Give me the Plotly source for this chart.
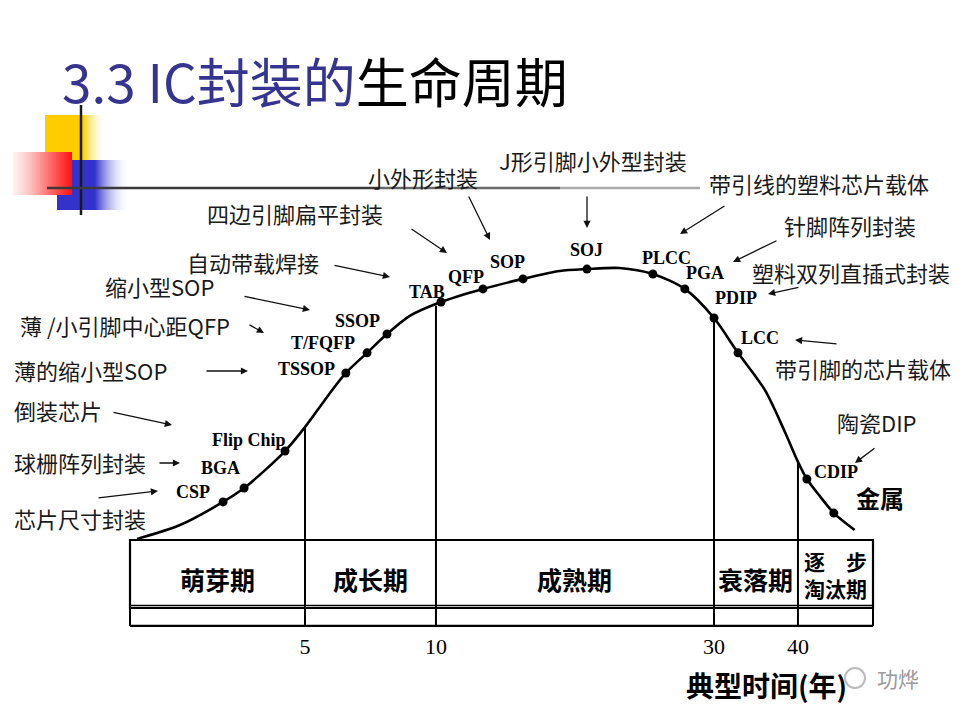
import numpy as np
import plotly.graph_objects as go

# ---------------- data ----------------
# package types along the life-cycle curve (typical years, relative adoption level)
PACKAGES = ["CSP", "BGA", "Flip Chip", "TSSOP", "T/FQFP", "SSOP", "TAB", "QFP",
            "SOP", "SOJ", "PLCC", "PGA", "PDIP", "LCC", "CDIP", "金属"]
PKG_YEAR = [2.66, 3.26, 4.43, 6.56, 7.37, 8.13, 10.36, 13.38,
            16.26, 20.86, 25.6, 27.9, 30.0, 32.86, 41.07, 44.3]
PKG_LEVEL = [14.0, 19.1, 32.7, 61.4, 68.8, 75.7, 87.5, 92.3,
             96.0, 99.6, 97.8, 92.3, 81.6, 68.8, 22.4, 9.9]

# life-cycle curve (years, level)
CURVE_YEAR = [0.2, 1.43, 2.66, 3.26, 3.86, 4.43, 5.0, 5.76, 6.56, 7.37, 8.13, 9.0,
              10.36, 13.38, 16.26, 18.9, 20.86, 23.2, 25.6, 27.9, 30.0, 32.86,
              36.07, 38.45, 40.0, 41.07, 42.6, 44.3, 46.8]
CURVE_LEVEL = [0.4, 5.5, 14.0, 19.1, 25.7, 32.7, 41.5, 51.5, 61.4, 68.8, 75.7, 82.4,
               87.5, 92.3, 96.0, 98.9, 99.6, 100.0, 97.8, 92.3, 81.6, 68.8,
               55.1, 39.7, 28.7, 22.4, 16.2, 9.9, 3.7]

# stages
STAGES = ["萌芽期", "成长期", "成熟期", "衰落期", "逐　步<br>淘汰期"]
STAGE_BOUNDS = [0, 5, 10, 30, 40, 49]
TICK_YEARS = [5, 10, 30, 40]
TICK_LABELS = ["5", "10", "30", "40"]

# explanatory notes (Chinese names)
NOTES = ["自动带载焊接", "缩小型SOP", "薄 /小引脚中心距QFP", "薄的缩小型SOP", "倒装芯片",
         "球栅阵列封装", "芯片尺寸封装", "四边引脚扁平封装", "小外形封装", "J形引脚小外型封装",
         "带引线的塑料芯片载体", "针脚阵列封装", "塑料双列直插式封装", "带引脚的芯片载体", "陶瓷DIP"]

TITLE_BLUE = "3.3 IC封装的"
TITLE_BLACK = "生命周期"
AXIS_TITLE = "典型时间(年)"

# ---------------- scales / layout ----------------
W, H = 960, 720
# piecewise time scale of the original diagram (years -> % of band width)
SCALE_YEARS = [0, 5, 10, 30, 40, 49]
SCALE_POS = [0, 23.55, 41.18, 78.6, 89.9, 100]
X0, X1 = -130 / 7.43, 830 / 7.43
Y0, Y1 = -66.18, 198.53


def xs(year):
    return np.interp(year, SCALE_YEARS, SCALE_POS)


def dxp(px):  # pixel -> data x (decorations only)
    return X0 + px / W * (X1 - X0)


def dyp(py):
    return Y1 - py / H * (Y1 - Y0)


def pp(px, py):  # pixel -> paper
    return px / W, 1 - py / H


fig = go.Figure()

# decorative squares
def grad_rect(x0, y0, x1, y1, cs):
    fig.add_trace(go.Scatter(
        x=[dxp(x0), dxp(x1), dxp(x1), dxp(x0), dxp(x0)],
        y=[dyp(y0), dyp(y0), dyp(y1), dyp(y1), dyp(y0)],
        mode="lines", line=dict(width=0), fill="toself",
        fillgradient=dict(type="horizontal", colorscale=cs),
        hoverinfo="skip", showlegend=False))


grad_rect(45, 115, 106, 178, [[0, "#FFCC00"], [0.62, "#FFCC00"], [1, "rgba(255,255,255,0)"]])
grad_rect(57, 160, 130, 210, [[0, "#3333CC"], [0.52, "#3333CC"], [1, "rgba(255,255,255,0)"]])
grad_rect(13, 152, 72, 195, [[0, "rgba(255,235,235,0.6)"], [0.5, "#FF8A8A"], [1, "#FF1010"]])

# curve
cx = xs(CURVE_YEAR)
fig.add_trace(go.Scatter(x=cx, y=CURVE_LEVEL, mode="lines",
                         line=dict(color="#000", width=2.6, shape="spline", smoothing=0.8),
                         hoverinfo="skip", showlegend=False))
# dots
fig.add_trace(go.Scatter(x=xs(PKG_YEAR), y=PKG_LEVEL, mode="markers",
                         marker=dict(color="#000", size=9, symbol="circle"),
                         hoverinfo="skip", showlegend=False))

shapes = []
BAND_TOP, BAND_BOT, AXIS_Y = 0.0, -25.0, -31.6
bx0, bx1 = xs(STAGE_BOUNDS[0]), xs(STAGE_BOUNDS[-1])
# band box
shapes.append(dict(type="rect", xref="x", yref="y", x0=bx0, x1=bx1, y0=BAND_BOT, y1=BAND_TOP,
                   line=dict(color="#000", width=2.2)))
shapes.append(dict(type="line", xref="x", yref="y", x0=bx0, x1=bx1, y0=BAND_BOT + 0.9, y1=BAND_BOT + 0.9,
                   line=dict(color="#000", width=1.6)))
shapes.append(dict(type="line", xref="x", yref="y", x0=bx0, x1=bx1, y0=AXIS_Y, y1=AXIS_Y,
                   line=dict(color="#000", width=2.2)))
for b in [STAGE_BOUNDS[0], STAGE_BOUNDS[-1]]:
    shapes.append(dict(type="line", xref="x", yref="y", x0=xs(b), x1=xs(b), y0=AXIS_Y, y1=BAND_TOP,
                       line=dict(color="#000", width=2)))
# boundaries between stages, from the curve down to the axis line
for b in STAGE_BOUNDS[1:-1]:
    top = float(np.interp(b, CURVE_YEAR, CURVE_LEVEL))
    shapes.append(dict(type="line", xref="x", yref="y", x0=xs(b), x1=xs(b), y0=AXIS_Y, y1=top,
                       line=dict(color="#000", width=2)))

# decorative lines
vx, vy0 = pp(81, 105)
_, vy1 = pp(81, 215)
shapes.append(dict(type="line", xref="paper", yref="paper", x0=vx, x1=vx, y0=vy0, y1=vy1,
                   line=dict(color="#1a1a1a", width=2.5), layer="above"))
for (a, b, c) in [(47, 380, "#3a3a3a"), (380, 560, "#6a6a6a"), (560, 700, "#aaaaaa")]:
    p0 = pp(a, 188)
    p1 = pp(b, 188)
    shapes.append(dict(type="line", xref="paper", yref="paper", x0=p0[0], x1=p1[0], y0=p0[1], y1=p1[1],
                       line=dict(color=c, width=2.5), layer="above"))
# watermark circle
c0 = pp(845, 668)
c1 = pp(865, 688)
shapes.append(dict(type="circle", xref="paper", yref="paper", x0=c0[0], x1=c1[0], y0=c1[1], y1=c0[1],
                   line=dict(color="#bbbbbb", width=2)))

ann = []
# title
tx, ty = pp(60, 80)
ann.append(dict(xref="paper", yref="paper", x=tx, y=ty, xanchor="left", yanchor="middle",
                text=f"<span style='color:#35358F'>{TITLE_BLUE}</span>{TITLE_BLACK}",
                showarrow=False, font=dict(family="Noto Sans CJK SC", size=53, color="#000")))

# package labels (offsets from the dot in px)
LABEL_OFFSETS = [(-30, 10), (-24, 20), (-36, 11), (-39, 4), (-44, 10), (-29, 13), (-14, 10), (-17, 12),
                 (-15, 17), (0, 19), (14, 16), (20, 16), (22, 20), (22, 15), (29, 7), (46, 16)]
for name, yr, lv, (ox, oy) in zip(PACKAGES, PKG_YEAR, PKG_LEVEL, LABEL_OFFSETS):
    big = name == "金属"
    ann.append(dict(xref="x", yref="y", x=xs(yr), y=lv, xshift=ox, yshift=oy, showarrow=False,
                    xanchor="center", yanchor="middle",
                    text=f"<b>{name}</b>",
                    font=dict(family="Noto Sans CJK SC" if big else "Liberation Serif",
                              size=24 if big else 18, color="#000")))

# stage labels
for i, s in enumerate(STAGES):
    mid = xs((STAGE_BOUNDS[i] + STAGE_BOUNDS[i + 1]) / 2)
    last = i == len(STAGES) - 1
    ann.append(dict(xref="x", yref="y", x=mid, y=(BAND_TOP + BAND_BOT) / 2 - (0.3 if last else 2.0),
                    showarrow=False, text=f"<b>{s}</b>", xanchor="center", yanchor="middle",
                    font=dict(family="Noto Sans CJK SC", size=21 if last else 25, color="#000")))

# notes
NOTE_POS = [(185, 262), (103, 286), (18, 325), (12, 370), (12, 410), (12, 462), (12, 518),
            (205, 213), (366, 177), (497, 160), (707, 183), (782, 225), (750, 272), (773, 368), (835, 422)]
for t, (px, py) in zip(NOTES, NOTE_POS):
    x, y = pp(px, py)
    ann.append(dict(xref="paper", yref="paper", x=x, y=y, xanchor="left", yanchor="middle",
                    showarrow=False, text=t,
                    font=dict(family="Noto Sans CJK SC", size=22, color="#1a1a1a")))

# arrows (tail px, head px)
ARROWS = [((333, 265), (390, 277)), ((243, 296), (310, 310)), ((248, 324), (264, 333)),
          ((205, 371), (248, 371)), ((112, 412), (172, 425)), ((158, 463), (180, 463)),
          ((97, 498), (158, 491)), ((410, 228), (447, 253)), ((468, 195), (490, 240)),
          ((587, 195), (587, 228)), ((726, 205), (680, 234)), ((778, 240), (733, 262)),
          ((800, 287), (768, 294)), ((838, 344), (795, 340)), ((876, 447), (855, 463))]
for (t0, t1) in ARROWS:
    hx, hy = pp(*t1)
    ann.append(dict(xref="paper", yref="paper", x=hx, y=hy, ax=t0[0] - t1[0], ay=t0[1] - t1[1],
                    text="", showarrow=True, arrowhead=2, arrowsize=1.1, arrowwidth=1.3,
                    arrowcolor="#111"))

# axis title + watermark
ax_, ay_ = pp(766, 685)
ann.append(dict(xref="paper", yref="paper", x=ax_, y=ay_, showarrow=False, text=f"<b>{AXIS_TITLE}</b>",
                xanchor="center", yanchor="middle",
                font=dict(family="Noto Sans CJK SC", size=28, color="#000")))
wx, wy = pp(875, 678)
ann.append(dict(xref="paper", yref="paper", x=wx, y=wy, showarrow=False, text="功烨",
                xanchor="left", yanchor="middle",
                font=dict(family="Noto Sans CJK SC", size=21, color="#9a9a9a")))

fig.update_layout(
    width=W, height=H, margin=dict(l=0, r=0, t=0, b=0),
    paper_bgcolor="#fff", plot_bgcolor="#fff",
    shapes=shapes, annotations=ann, showlegend=False,
    xaxis=dict(range=[X0, X1], showgrid=False, zeroline=False, showline=False,
               tickvals=list(xs(TICK_YEARS)), ticktext=TICK_LABELS, ticks="",
               anchor="free", position=1 - 626 / H, ticklabelstandoff=5,
               tickfont=dict(family="Liberation Serif", size=22, color="#000"), fixedrange=True),
    yaxis=dict(range=[Y0, Y1], visible=False, fixedrange=True),
)

fig.write_html("out.html", config={"displayModeBar": False},
               post_script="document.body.style.margin='0';document.body.style.overflow='hidden';")
